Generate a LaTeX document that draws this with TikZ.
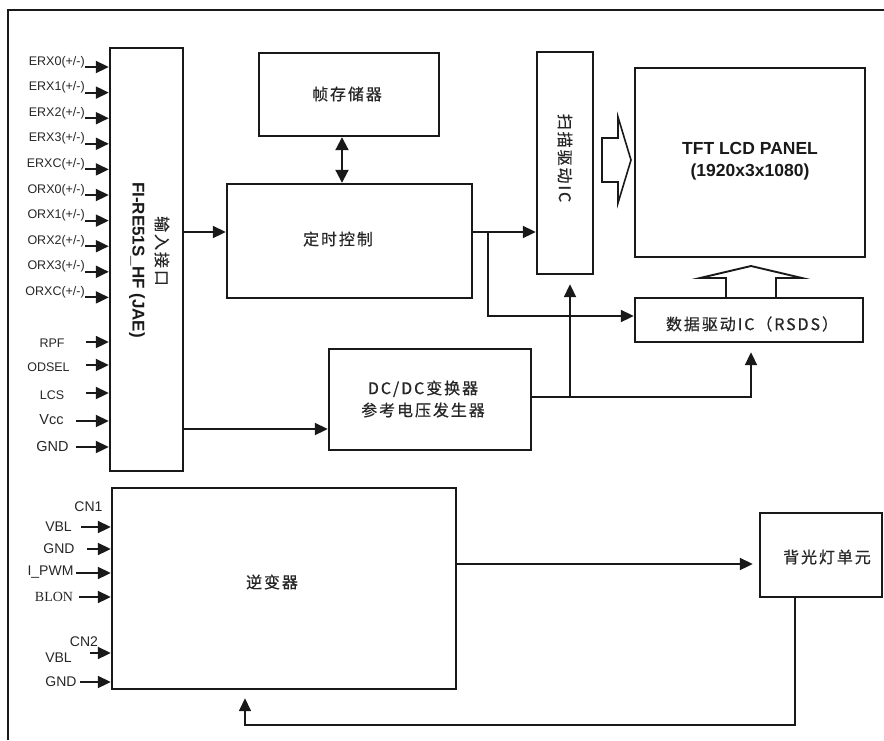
\documentclass[tikz,border=0pt]{standalone}
\usepackage{fontspec}
\setmainfont{Liberation Sans}
\newfontfamily\cjk[LetterSpace=12,FakeBold=0.6]{Noto Sans CJK SC}
\newfontfamily\tnr{Liberation Serif}
\usetikzlibrary{arrows.meta}
\begin{document}
\begin{tikzpicture}[x=1pt,y=-1pt,
  box/.style={draw=black!90, line width=2.4pt, inner sep=0pt},
  arr/.style={draw=black!90, line width=2pt, -{Triangle[length=13pt,width=12pt]}},
  darr/.style={draw=black!90, line width=2pt, {Triangle[length=13pt,width=13pt]}-{Triangle[length=13pt,width=13pt]}},
  hollow/.style={draw=black!90, line width=1.6pt, line join=miter},
  lab/.style={font=\fontsize{12.5}{14}\selectfont, text=black!85, inner sep=0pt},
  biglab/.style={font=\fontsize{14}{16}\selectfont, text=black!85, inner sep=0pt},
  cjklab/.style={font=\cjk\fontsize{16}{20}\selectfont, text=black!85, inner sep=0pt, align=center}]
\useasboundingbox (0,0) rectangle (884,740);
% outer frame
\draw[line width=2pt, black!90] (8,740) -- (8,10) -- (884,10);

% boxes
\node[box, minimum width=73pt, minimum height=423pt] (inp) at (146.5,259.5) {};
\node[box, minimum width=180pt, minimum height=83pt] (fb) at (349,94.5) {};
\node[box, minimum width=245pt, minimum height=114pt] (tc) at (349.5,241) {};
\node[box, minimum width=56pt, minimum height=222pt] (scan) at (565,163) {};
\node[box, minimum width=230pt, minimum height=189pt] (panel) at (750,162.5) {};
\node[box, minimum width=228pt, minimum height=44pt] (dd) at (749,320) {};
\node[box, minimum width=202pt, minimum height=101pt] (dc) at (430,399.5) {};
\node[box, minimum width=344pt, minimum height=201pt] (inv) at (284,588.5) {};
\node[box, minimum width=122pt, minimum height=84pt] (bl) at (821,555) {};

% box texts
\node[cjklab, rotate=-90] (inplab1) at (162,251) {输入接口};
\node[inner sep=0pt, rotate=-90, font=\bfseries\fontsize{17}{20}\selectfont, text=black!90] (inplab2) at (137,260) {FI-RE51S\_HF (JAE)};
\node[cjklab] (fblab) at (347,94) {帧存储器};
\node[cjklab] (tclab) at (338,239) {定时控制};
\node[cjklab, rotate=-90] (scanlab) at (565,158) {扫描驱动IC};
\node[inner sep=0pt, align=center, font=\bfseries\fontsize{17.5}{22}\selectfont, text=black!90] (panellab) at (750,161) {TFT LCD PANEL\\(1920x3x1080)};
\node[cjklab] (ddlab) at (752,324) {数据驱动IC（RSDS）};
\node[cjklab, font=\cjk\fontsize{16}{22}\selectfont] (dclab) at (423,399) {DC/DC变换器\\参考电压发生器};
\node[cjklab] (invlab) at (272,582) {逆变器};
\node[cjklab] (bllab) at (827,557) {背光灯单元};

% input interface signals
\node[lab, anchor=base east] (e0) at (85,65) {ERX0(+/-)};
\node[lab, anchor=base east] (e1) at (85,90.6) {ERX1(+/-)};
\node[lab, anchor=base east] (e2) at (85,116.2) {ERX2(+/-)};
\node[lab, anchor=base east] (e3) at (85,141.8) {ERX3(+/-)};
\node[lab, anchor=base east] (ec) at (85,167.4) {ERXC(+/-)};
\node[lab, anchor=base east] (o0) at (85,193) {ORX0(+/-)};
\node[lab, anchor=base east] (o1) at (85,218.6) {ORX1(+/-)};
\node[lab, anchor=base east] (o2) at (85,244.2) {ORX2(+/-)};
\node[lab, anchor=base east] (o3) at (85,269.8) {ORX3(+/-)};
\node[lab, anchor=base east] (oc) at (85,295.4) {ORXC(+/-)};
\coordinate (se0) at (85,67);
\coordinate (se1) at (85,92.6);
\coordinate (se2) at (85,118.2);
\coordinate (se3) at (85,143.8);
\coordinate (sec) at (85,169.4);
\coordinate (so0) at (85,195);
\coordinate (so1) at (85,220.6);
\coordinate (so2) at (85,246.2);
\coordinate (so3) at (85,271.8);
\coordinate (soc) at (85,297.4);
\foreach \c in {se0,se1,se2,se3,sec,so0,so1,so2,so3,soc}
  \draw[arr] (\c) -- (inp.west |- \c);

\node[lab] (rpf) at (52,343) {RPF};
\node[lab] (odsel) at (48.5,367) {ODSEL};
\node[lab] (lcs) at (52,395) {LCS};
\node[biglab, font=\fontsize{14.5}{16}\selectfont] (vcc) at (51.5,420) {Vcc};
\node[biglab, font=\fontsize{14.5}{16}\selectfont] (gnd) at (52.5,446) {GND};
\coordinate (srpf) at (86,342);
\coordinate (sods) at (86,365);
\coordinate (slcs) at (86,393);
\coordinate (svcc) at (76,421);
\coordinate (sgnd) at (76,447);
\foreach \c in {srpf,sods,slcs,svcc,sgnd}
  \draw[arr] (\c) -- (inp.west |- \c);

% inverter signals
\node[biglab] (cn1) at (88.5,507) {CN1};
\node[biglab] (vbl1) at (58.5,527) {VBL};
\node[biglab] (gnd1) at (59,549) {GND};
\node[biglab] (ipwm) at (50.5,572) {I\_PWM};
\node[biglab, font=\tnr\fontsize{14}{16}\selectfont] (blon) at (54,597) {BLON};
\node[biglab] (cn2) at (84,642) {CN2};
\node[biglab] (vbl2) at (58.5,658) {VBL};
\node[biglab] (gnd2) at (61,682) {GND};
\coordinate (svbl1) at (81,527);
\coordinate (sgnd1) at (87,549);
\coordinate (sipwm) at (76,573);
\coordinate (sblon) at (79,597);
\coordinate (svbl2) at (90,653);
\coordinate (sgnd2) at (80,682);
\foreach \c in {svbl1,sgnd1,sipwm,sblon,svbl2,sgnd2}
  \draw[arr] (\c) -- (inv.west |- \c);

% main connectors
\coordinate (y232) at (0,232);
\draw[arr] (inp.east |- y232) -- (tc.west |- y232);
\draw[darr] (342,0 |- fb.south) -- (342,0 |- tc.north);
\coordinate (y429) at (0,429);
\draw[arr] (inp.east |- y429) -- (dc.west |- y429);
\draw[arr] (tc.east |- y232) -- (scan.west |- y232);
\coordinate (j1) at (488,232);
\coordinate (y316) at (0,316);
\draw[arr] (j1) |- (dd.west |- y316);
\coordinate (y397) at (0,397);
\coordinate (j2) at (570,397);
\draw[arr, shorten >=9pt] (dc.east |- y397) -| (751,0 |- dd.south);
\draw[arr, shorten >=9pt] (j2) -- (570,0 |- scan.south);

% hollow arrows
\draw[hollow] (602,138) -- (618,138) -- (618,117) -- (631,160) -- (618,203) -- (618,182) -- (602,182) -- cycle;
\draw[hollow, line width=1.9pt] (726,297) -- (726,278) -- (700,278) -- (751,266) -- (802,278) -- (776,278) -- (776,297);

% backlight
\coordinate (y564) at (0,564);
\draw[arr, shorten >=6pt] (inv.east |- y564) -- (bl.west |- y564);
\coordinate (fb1) at (795,725);
\coordinate (fb2) at (245,725);
\draw[arr, line width=1.6pt, shorten >=8pt] (795,0 |- bl.south) -- (fb1) -- (fb2) -- (245,0 |- inv.south);
\end{tikzpicture}
\end{document}
